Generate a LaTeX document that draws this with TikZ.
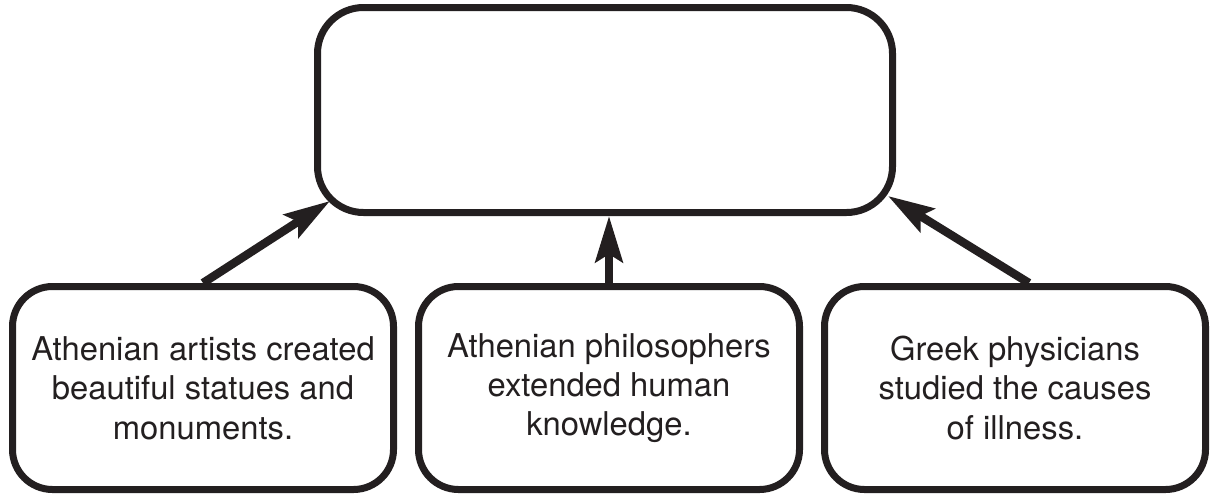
\documentclass[tikz,border=0pt]{standalone}
\usepackage{fontspec}
\setmainfont{TeX Gyre Heros}
\usetikzlibrary{arrows.meta}
\definecolor{ink}{HTML}{231F20}

\begin{document}
\begin{tikzpicture}[auto,node distance=10.15cm,ink,main node/.style={draw,rounded corners=1cm,line width=0.175cm,minimum width=9.525cm,minimum height=5.075cm,align=center,font=\fontsize{23.3}{28}\selectfont},top node/.style={main node,rounded corners=1.15cm,minimum width=14.375cm,minimum height=5.125cm},every edge/.style={draw,line width=0.21cm,-{Stealth[length=1.15cm,width=0.68cm,inset=0.2cm]}}]
		\useasboundingbox (0,0) rectangle (30.25,-12.375);
		\node[main node] (2) at (15.225,-9.7) {Athenian philosophers\\extended human\\knowledge.};
		\node[main node] (1) [left of =2] {Athenian artists created\\beautiful statues and\\monuments.};
		\node[main node] (3) [right of =2] {Greek physicians\\studied the causes\\of illness.};
		\node[top node] (0) at (15.125,-2.75) {};
		\path (1.north) edge ([shift={(0.4,0.375)}]0.south west)
		(2.north) edge (2.north |- 0.south)
		([xshift=0.35cm]3.north) edge ([shift={(-0.2,0.5)}]0.south east);
		\end{tikzpicture}
\end{document}
